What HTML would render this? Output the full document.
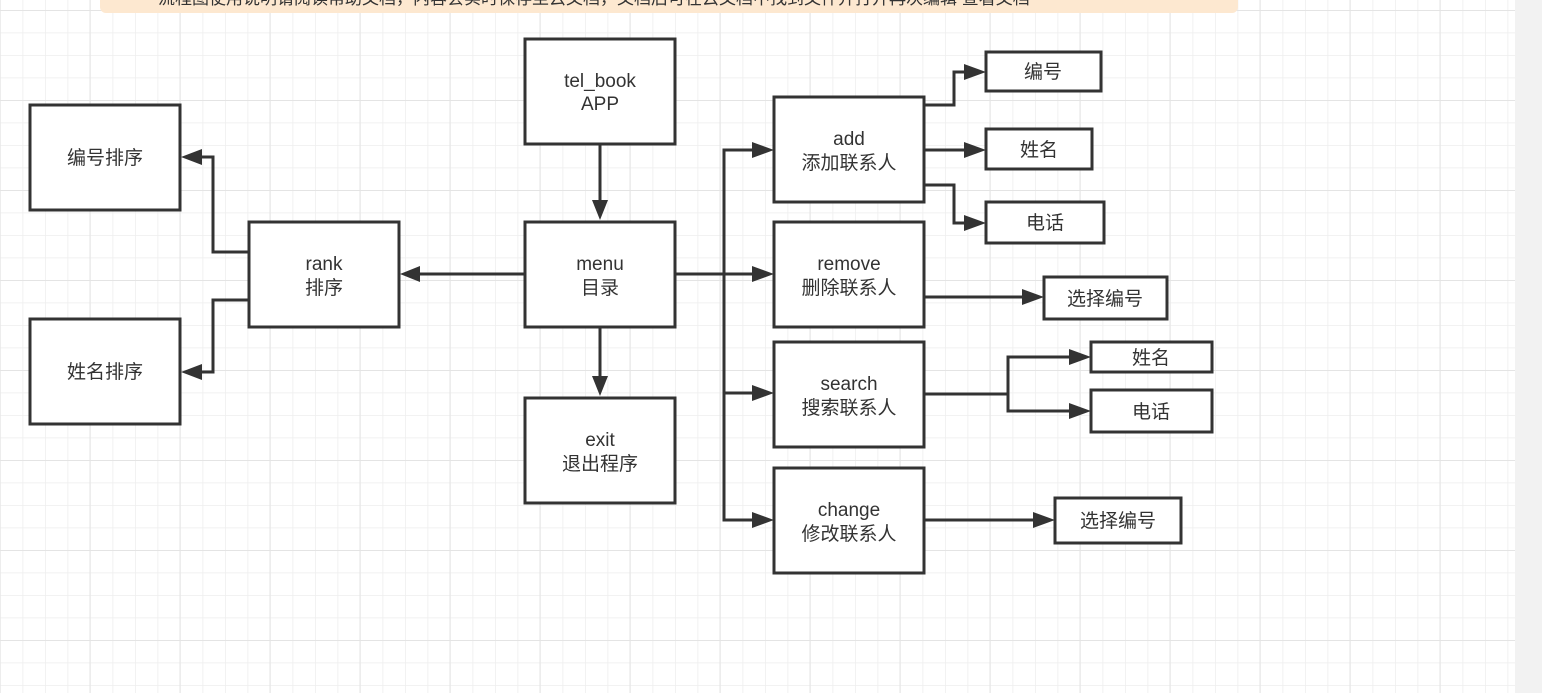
<!DOCTYPE html>
<html><head><meta charset="utf-8">
<style>
html,body{margin:0;padding:0;width:1542px;height:693px;overflow:hidden;background:#fff;}
svg{display:block;}
text{font-family:"Liberation Sans","Noto Sans CJK SC",sans-serif;font-size:19px;fill:#333;}
</style></head><body>
<svg width="1542" height="693" viewBox="0 0 1542 693" xmlns="http://www.w3.org/2000/svg">
<defs>
<pattern id="minor" x="0" y="10" width="22.5" height="22.5" patternUnits="userSpaceOnUse">
<path d="M0 0H22.5M0 0V22.5" stroke="#eeeeee" stroke-width="1.5" fill="none"/>
</pattern>
<pattern id="major" x="-0.5" y="10" width="90" height="90" patternUnits="userSpaceOnUse">
<path d="M0 0H90M0 0V90" stroke="#e4e4e4" stroke-width="2" fill="none"/>
</pattern>
<marker id="a" markerWidth="8" markerHeight="8" refX="7" refY="4" orient="auto" markerUnits="userSpaceOnUse" viewBox="0 0 8 8">
</marker>
</defs>
<rect width="1515" height="693" fill="url(#minor)"/>
<rect width="1515" height="693" fill="url(#major)"/>
<rect x="1515" y="0" width="27" height="693" fill="#f2f2f2"/>
<path d="M100 0H1238V7a6 6 0 0 1-6 6H106a6 6 0 0 1-6-6z" fill="#fde8d0"/>
<text x="158" y="4" style="font-size:17px">流程图使用说明请阅读帮助文档，内容会实时保存至云文档，文档后可在云文档中找到文件并打开再次编辑 查看文档</text>

<g fill="#fff" stroke="#333" stroke-width="3">
<rect x="525" y="39" width="150" height="105"/>
<rect x="525" y="222" width="150" height="105"/>
<rect x="525" y="398" width="150" height="105"/>
<rect x="249" y="222" width="150" height="105"/>
<rect x="30" y="105" width="150" height="105"/>
<rect x="30" y="319" width="150" height="105"/>
<rect x="774" y="97" width="150" height="105"/>
<rect x="774" y="222" width="150" height="105"/>
<rect x="774" y="342" width="150" height="105"/>
<rect x="774" y="468" width="150" height="105"/>
<rect x="986" y="52" width="115" height="39"/>
<rect x="986" y="129" width="106" height="40"/>
<rect x="986" y="202" width="118" height="41"/>
<rect x="1044" y="277" width="123" height="42"/>
<rect x="1091" y="342" width="121" height="30"/>
<rect x="1091" y="390" width="121" height="42"/>
<rect x="1055" y="498" width="126" height="45"/>
</g>

<g fill="none" stroke="#333" stroke-width="3">
<path d="M600 144V200"/>
<path d="M600 327V376"/>
<path d="M525 274H420"/>
<path d="M249 252H213V157H202"/>
<path d="M249 300H213V372H202"/>
<path d="M675 274H752"/>
<path d="M724 274V150H752"/>
<path d="M724 274V393H752"/>
<path d="M724 274V520H752"/>
<path d="M924 105H954V72H964"/>
<path d="M924 150H964"/>
<path d="M924 185H954V223H964"/>
<path d="M924 297H1022"/>
<path d="M924 394H1008V357H1069"/>
<path d="M1008 394V411H1069"/>
<path d="M924 520H1033"/>
</g>
<g fill="#333">
<path d="M600 220l-8-20h16z"/>
<path d="M600 396l-8-20h16z"/>
<path d="M400 274l20-8v16z"/>
<path d="M181 157l21-8v16z"/>
<path d="M181 372l21-8v16z"/>
<path d="M774 274l-22-8v16z"/>
<path d="M774 150l-22-8v16z"/>
<path d="M774 393l-22-8v16z"/>
<path d="M774 520l-22-8v16z"/>
<path d="M986 72l-22-8v16z"/>
<path d="M986 150l-22-8v16z"/>
<path d="M986 223l-22-8v16z"/>
<path d="M1044 297l-22-8v16z"/>
<path d="M1091 357l-22-8v16z"/>
<path d="M1091 411l-22-8v16z"/>
<path d="M1055 520l-22-8v16z"/>
</g>

<g text-anchor="middle">
<text x="600" y="87">tel_book</text><text x="600" y="110">APP</text>
<text x="600" y="270">menu</text><text x="600" y="294">目录</text>
<text x="600" y="446">exit</text><text x="600" y="470">退出程序</text>
<text x="324" y="270">rank</text><text x="324" y="294">排序</text>
<text x="105" y="164">编号排序</text>
<text x="105" y="378">姓名排序</text>
<text x="849" y="145">add</text><text x="849" y="169">添加联系人</text>
<text x="849" y="270">remove</text><text x="849" y="294">删除联系人</text>
<text x="849" y="390">search</text><text x="849" y="414">搜索联系人</text>
<text x="849" y="516">change</text><text x="849" y="540">修改联系人</text>
<text x="1043" y="78">编号</text>
<text x="1039" y="156">姓名</text>
<text x="1045" y="229">电话</text>
<text x="1105" y="305">选择编号</text>
<text x="1151" y="364">姓名</text>
<text x="1151" y="418">电话</text>
<text x="1118" y="527">选择编号</text>
</g>
</svg>
</body></html>
